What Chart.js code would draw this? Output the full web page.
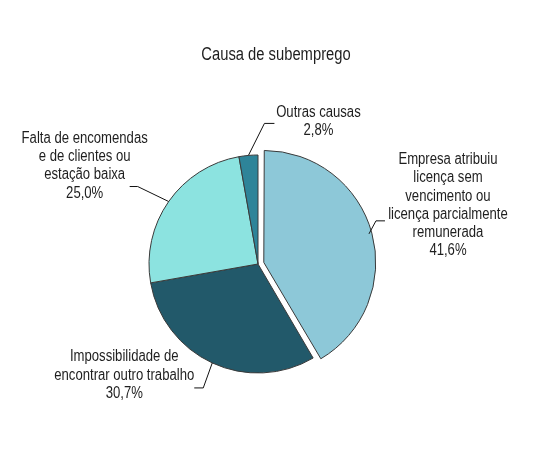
<!DOCTYPE html>
<html>
<head>
<meta charset="utf-8">
<script src="https://cdn.jsdelivr.net/npm/chart.js@4.4.0/dist/chart.umd.min.js"></script>
<style>
    html, body { margin: 0; padding: 0; background: #ffffff; }
    #wrap { width: 543px; height: 467px; }
</style>
</head>
<body>
<div id="wrap"><canvas id="grafikCausa" width="543" height="467"></canvas></div>
<script>
// dados
const chartTitle = 'Causa de subemprego';
const categorias = [
    ['Empresa atribuiu', 'licença sem', 'vencimento ou', 'licença parcialmente', 'remunerada'],
    ['Impossibilidade de', 'encontrar outro trabalho'],
    ['Falta de encomendas', 'e de clientes ou', 'estação baixa'],
    ['Outras causas']
];
const valores = [41.6, 30.7, 25.0, 2.8];

// estilo
const cores = ['#8dc8d8', '#22596a', '#8ce3e0', '#2e8499'];
const fonte = "'Liberation Sans', Arial, sans-serif";
const estreito = 0.82; // imita Arial Narrow
const alturaLinha = 18.2;
// posicao dos rotulos, relativa ao ponto da borda da fatia
const layoutRotulos = [
    { cotovelo: [7, -13], fim: [16, -13], texto: [79, -74] },
    { cotovelo: [-9, 25], fim: [-18, 25], texto: [-88, -6] },
    { cotovelo: [-31, -15], fim: [-39, -15], texto: [-84, -63] },
    { cotovelo: [16, -32], fim: [26, -32], texto: [70, -43] }
];

function formatarPercentagem(v) {
    return v.toFixed(1).replace('.', ',') + '%';
}

function textoEstreito(ctx, texto, x, y) {
    ctx.save();
    ctx.translate(x, y);
    ctx.scale(estreito, 1);
    ctx.fillText(texto, 0, 0);
    ctx.restore();
}

const pluginRotulos = {
    id: 'rotulos',
    afterDraw: function (chart) {
        let ctx = chart.ctx;
        let meta = chart.getDatasetMeta(0);
        ctx.save();

        ctx.fillStyle = '#1e1e1e';
        ctx.textAlign = 'center';
        ctx.textBaseline = 'middle';
        ctx.font = '18px ' + fonte;
        textoEstreito(ctx, chartTitle, 276, 55);

        ctx.font = '16px ' + fonte;
        meta.data.forEach(function (arc, i) {
            let p = arc.getProps(['x', 'y', 'startAngle', 'endAngle', 'outerRadius'], true);
            let meio = (p.startAngle + p.endAngle) / 2;
            let desl = (arc.options.offset || 0) / 4;
            let bx = p.x + Math.cos(meio) * (p.outerRadius + desl);
            let by = p.y + Math.sin(meio) * (p.outerRadius + desl);
            let lay = layoutRotulos[i];

            ctx.strokeStyle = '#111111';
            ctx.lineWidth = 1;
            ctx.beginPath();
            ctx.moveTo(bx, by);
            ctx.lineTo(bx + lay.cotovelo[0], by + lay.cotovelo[1]);
            ctx.lineTo(bx + lay.fim[0], by + lay.fim[1]);
            ctx.stroke();

            let linhas = categorias[i].concat([formatarPercentagem(valores[i])]);
            let tx = bx + lay.texto[0];
            let ty = by + lay.texto[1];
            linhas.forEach(function (linha, j) {
                textoEstreito(ctx, linha, tx, ty + j * alturaLinha);
            });
        });
        ctx.restore();
    }
};

new Chart(document.getElementById('grafikCausa'), {
    type: 'pie',
    data: {
        labels: categorias.map(function (c) { return c.join(' '); }),
        datasets: [{
            data: valores,
            backgroundColor: cores,
            borderColor: '#3a3a3a',
            borderWidth: 1,
            offset: [24, 0, 0, 0],
            radius: 109
        }]
    },
    options: {
        responsive: false,
        animation: false,
        devicePixelRatio: 1,
        layout: {
            padding: { left: 0, right: 27, top: 61, bottom: 0 }
        },
        plugins: {
            legend: { display: false },
            tooltip: { enabled: false },
            title: { display: false }
        }
    },
    plugins: [pluginRotulos]
});
</script>
</body>
</html>
